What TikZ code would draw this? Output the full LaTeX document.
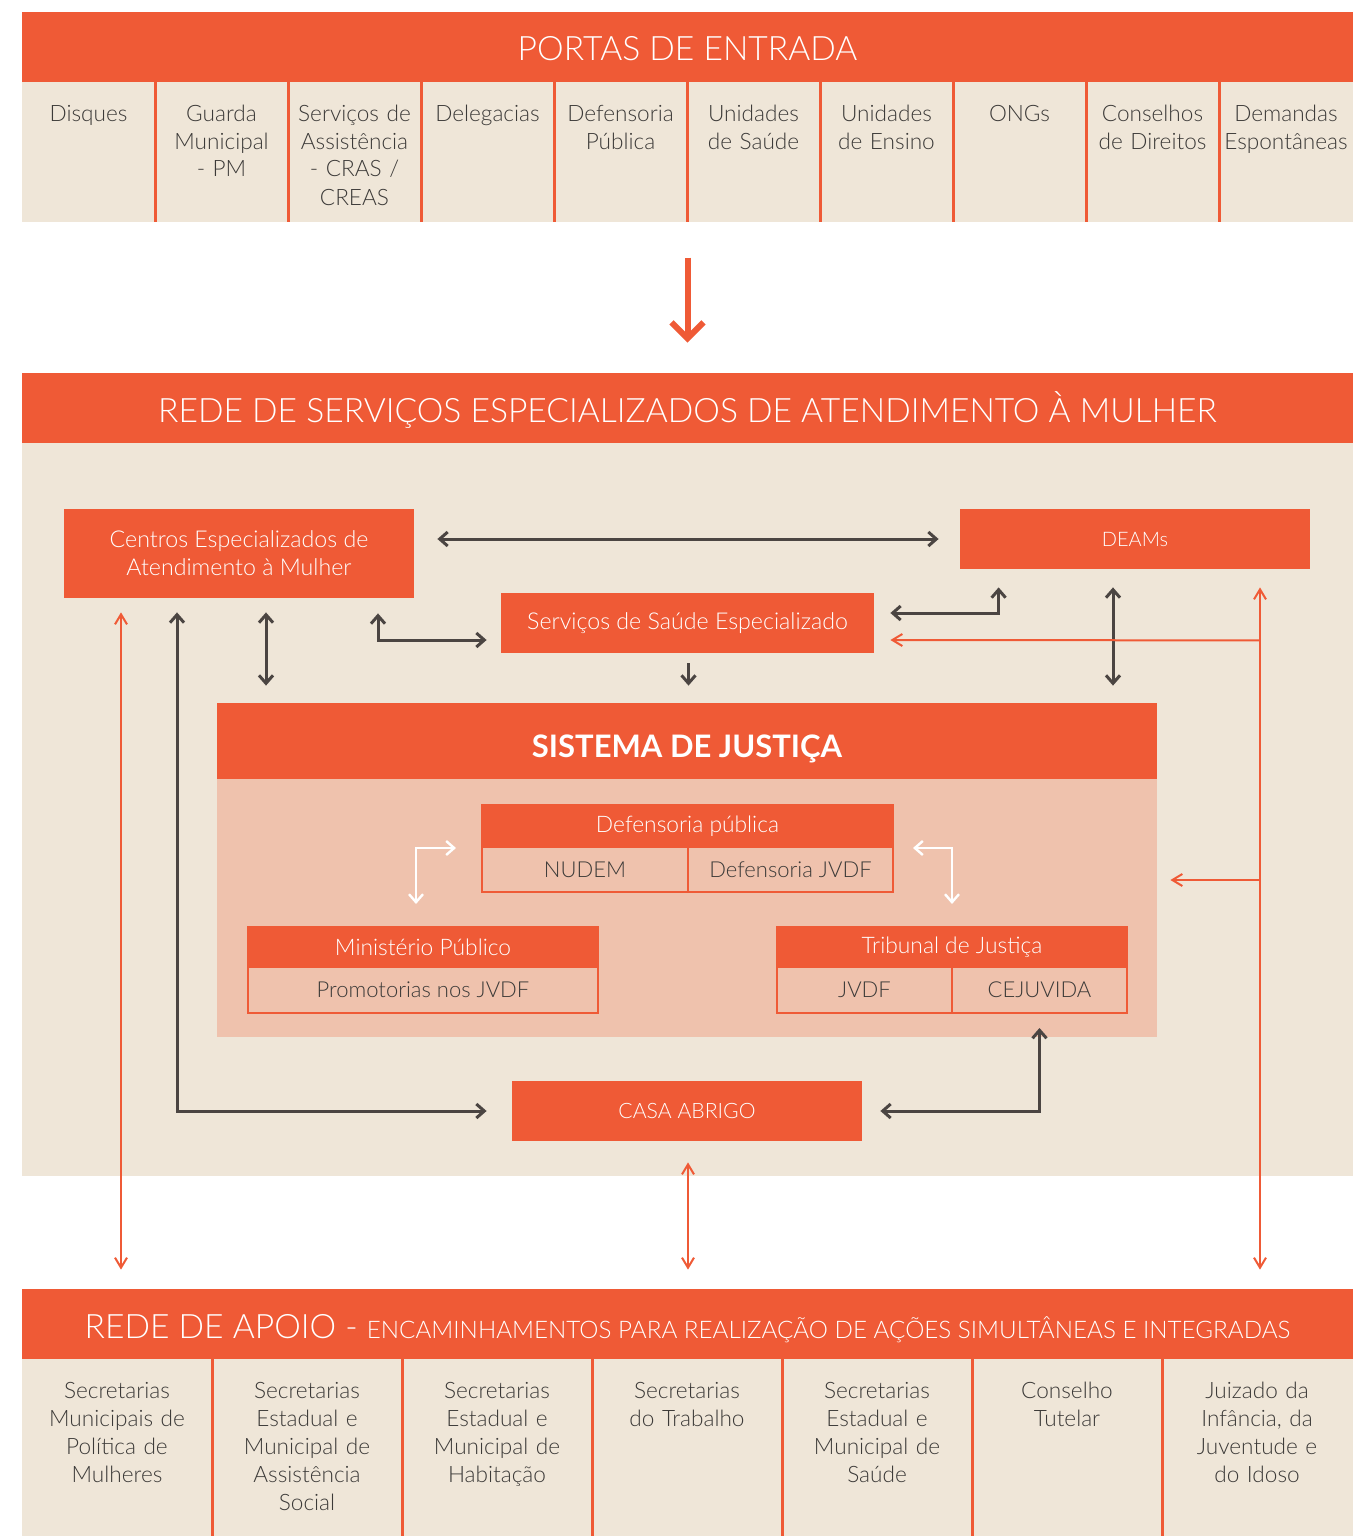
\documentclass[tikz,border=0pt]{standalone}
\usepackage{fontspec}
\setmainfont{Lato}[UprightFont=* Light, BoldFont=* Bold]
\usepackage{tikz}
\usetikzlibrary{arrows.meta,calc}

\definecolor{laranja}{RGB}{239,90,54}
\definecolor{bege}{RGB}{239,230,216}
\definecolor{rosa}{RGB}{239,194,173}
\definecolor{cinza}{RGB}{75,69,66}
\definecolor{texto}{RGB}{60,58,56}

\tikzset{
  faixa/.style={fill=laranja, text=white, inner sep=0pt, minimum width=665.5pt, minimum height=35pt, text height=14pt, text depth=0pt, font=\fontsize{16.8}{20}\selectfont},
  porta/.style={anchor=base, text width=64pt, align=center, inner sep=0pt, text=texto, font=\fontsize{11.3}{14}\selectfont},
  apoio/.style={anchor=base, text width=92pt, align=center, inner sep=0pt, text=texto, font=\fontsize{11.3}{14}\selectfont},
  caixa/.style={fill=laranja, text=white, inner sep=0pt, align=center, minimum width=175pt, minimum height=30pt, font=\fontsize{11.6}{14}\selectfont},
  cabeca/.style={fill=laranja, draw=laranja, line width=1pt, text=white, inner sep=0pt, font=\fontsize{11.4}{12}\selectfont},
  celula/.style={fill=rosa, draw=laranja, line width=1pt, text=texto, inner sep=0pt, font=\fontsize{11}{12}\selectfont},
  divisa/.style={laranja, line width=1.5pt},
  dkarr/.style={cinza, line width=1.5pt, {Straight Barb[length=4pt,width=7pt]}-{Straight Barb[length=4pt,width=7pt]}},
  dkto/.style={cinza, line width=1.5pt, -{Straight Barb[length=4pt,width=7pt]}},
  orarr/.style={laranja, line width=1pt, {Straight Barb[length=5pt,width=6pt]}-{Straight Barb[length=5pt,width=6pt]}},
  orto/.style={laranja, line width=1pt, -{Straight Barb[length=5pt,width=6pt]}},
  wharr/.style={white, line width=1.2pt, {Straight Barb[length=4pt,width=7pt]}-{Straight Barb[length=4pt,width=7pt]}}
}

\begin{document}
\begin{tikzpicture}[x=0.5pt, y=-0.5pt]
    \useasboundingbox (0,0) rectangle (1353,1536);

    % Portas de entrada
    \node[faixa] (portas) at (687.5,47) {PORTAS DE ENTRADA};
    \fill[bege] (22,82) rectangle (1353,222);
    \foreach \xs in {155,288,421,554,687,820,953,1086,1219}
        \draw[divisa] (\xs,82) -- (\xs,222);

    \node[porta] (disques) at (88.5,121) {Disques};
    \node[porta] (guarda) at (221.5,121) {Guarda\\Municipal\\- PM};
    \node[porta] (cras) at (354.5,121) {Serviços de\\Assistência\\- CRAS /\\CREAS};
    \node[porta] (delegacias) at (487.5,121) {Delegacias};
    \node[porta] (defpub) at (620.5,121) {Defensoria\\Pública};
    \node[porta] (usaude) at (753.5,121) {Unidades\\de Saúde};
    \node[porta] (uensino) at (886.5,121) {Unidades\\de Ensino};
    \node[porta] (ongs) at (1019.5,121) {ONGs};
    \node[porta] (conselhos) at (1152.5,121) {Conselhos\\de Direitos};
    \node[porta] (demandas) at (1286,121) {Demandas\\Espontâneas};

    % Rede de servicos especializados
    \node[faixa] (rede) at (687.5,408) {REDE DE SERVIÇOS ESPECIALIZADOS DE ATENDIMENTO À MULHER};
    \fill[bege] (22,443) rectangle (1353,1176);
    \draw[laranja, line width=3pt, -{Straight Barb[length=8pt,width=16pt]}]
        ($(rede.north)+(0,-115)$) -- ($(rede.north)+(0,-30)$);

    \node[caixa, minimum height=44.5pt] (cesam) at (239,553.5) {Centros Especializados de\\Atendimento à Mulher};
    \node[caixa, font=\fontsize{10}{12}\selectfont] (deams) at (1135,539) {DEAMs};
    \node[caixa, minimum width=186.5pt] (saude) at (687.5,623) {Serviços de Saúde Especializado};

    % Sistema de justica
    \node[fill=laranja, text=white, inner sep=0pt, minimum width=470pt, minimum height=38pt,
          text height=16pt, text depth=0pt, font=\fontsize{15.5}{18}\selectfont\bfseries] (sj) at (687,741) {SISTEMA DE JUSTIÇA};
    \node[fill=rosa, inner sep=0pt, minimum width=470pt, minimum height=129pt] (sjcorpo) at (687,908) {};

    \node[cabeca, minimum width=205.5pt, minimum height=21pt] (defp) at (687.5,826) {Defensoria pública};
    \node[celula, minimum width=103pt, minimum height=22.5pt] (nudem) at (585,869.5) {NUDEM};
    \node[celula, minimum width=102.5pt, minimum height=22.5pt] (defjvdf) at (790.5,869.5) {Defensoria JVDF};

    \node[cabeca, minimum width=175pt, minimum height=20pt] (mp) at (423,947) {Ministério Público};
    \node[celula, minimum width=175pt, minimum height=23pt] (promot) at (423,990) {Promotorias nos JVDF};

    \node[cabeca, minimum width=175pt, minimum height=20pt] (tj) at (952,947) {Tribunal de Justiça};
    \node[celula, minimum width=87.5pt, minimum height=23pt] (jvdf) at (864.5,990) {JVDF};
    \node[celula, minimum width=87.5pt, minimum height=23pt] (cejuvida) at (1039.5,990) {CEJUVIDA};

    \node[caixa, font=\fontsize{10.6}{12}\selectfont] (casa) at (687,1111) {CASA ABRIGO};

    % Rede de apoio
    \node[faixa] (apoio) at (687.5,1324) {REDE DE APOIO - {\fontsize{12.1}{14}\selectfont ENCAMINHAMENTOS PARA REALIZAÇÃO DE AÇÕES SIMULTÂNEAS E INTEGRADAS}};
    \fill[bege] (22,1359) rectangle (1353,1536);
    \foreach \xs in {212,402,592,782,972,1162}
        \draw[divisa] (\xs,1359) -- (\xs,1536);

    \node[apoio] (smpm) at (117,1398) {Secretarias\\Municipais de\\Política de\\Mulheres};
    \node[apoio] (sas) at (307,1398) {Secretarias\\Estadual e\\Municipal de\\Assistência\\Social};
    \node[apoio] (shab) at (497,1398) {Secretarias\\Estadual e\\Municipal de\\Habitação};
    \node[apoio] (strab) at (687,1398) {Secretarias\\do Trabalho};
    \node[apoio] (ssaude) at (877,1398) {Secretarias\\Estadual e\\Municipal de\\Saúde};
    \node[apoio] (tutelar) at (1067,1398) {Conselho\\Tutelar};
    \node[apoio] (juizado) at (1257,1398) {Juizado da\\Infância, da\\Juventude e\\do Idoso};

    % Connections
    \draw[dkarr] ($(deams.west)+(-21,0)$) -- ($(cesam.east|-deams.west)+(23,0)$);
    \draw[dkarr] ($(cesam.south)+(27,14)$) -- ($(cesam.south|-sj.north)+(27,-17)$);
    \draw[dkarr] ($(cesam.south)+(139,15)$) |- ($(saude.west)+(-14,17)$);
    \draw[dkto] ($(saude.south)+(1,10)$) -- ($(saude.south|-sj.north)+(1,-17)$);
    \draw[dkarr] ($(saude.east)+(16,-10)$) -| ($(deams.south west)+(39,18)$);
    \draw[dkarr] ($(deams.south)+(-22,18)$) -- ($(deams.south|-sj.north)+(-22,-17)$);
    \draw[dkarr] ($(cesam.south)+(-62,14)$) |- ($(casa.west)+(-25,0)$);
    \draw[dkarr] ($(casa.east)+(18,0)$) -| ($(cejuvida.south)+(0,14)$);

    \draw[orarr] ($(deams.south)+(125,18)$) -- ($(deams.south|-apoio.north)+(125,-19)$);
    \draw[orto] ($(deams.south)+(125,71)$) -- ($(saude.east)+(16,17)$);
    \draw[orto] ($(deams.south|-sjcorpo.east)+(125,-28)$) -- ($(sjcorpo.east)+(13,-28)$);
    \draw[orarr] ($(cesam.south)+(-118,14)$) -- ($(cesam.south|-apoio.north)+(-118,-19)$);
    \draw[orarr] ($(casa.south)+(1,21)$) -- ($(casa.south|-apoio.north)+(1,-19)$);

    \draw[wharr] ($(mp.north)+(-7,-22)$) |- ($(defp.south west)+(-25,0)$);
    \draw[wharr] ($(defp.south east)+(19,0)$) -| ($(tj.north)+(0,-22)$);
\end{tikzpicture}
\end{document}
